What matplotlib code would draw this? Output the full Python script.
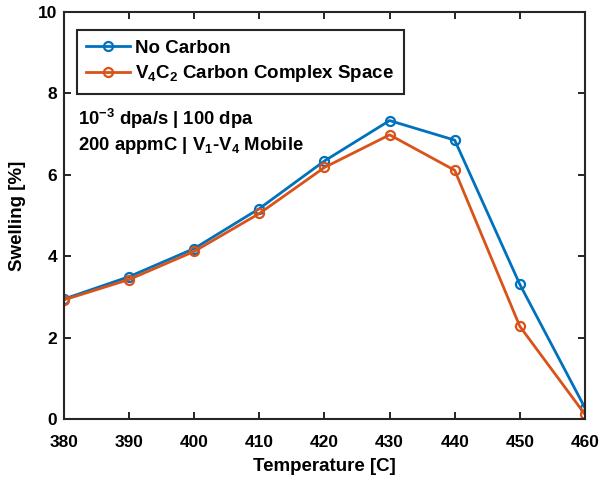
import matplotlib
matplotlib.use('Agg')
import matplotlib.pyplot as plt

plt.rcParams['font.family'] = ['Liberation Sans', 'DejaVu Sans']
plt.rcParams['font.weight'] = 'bold'
plt.rcParams['mathtext.fontset'] = 'custom'
plt.rcParams['mathtext.bf'] = 'Liberation Sans:bold'
plt.rcParams['mathtext.rm'] = 'Liberation Sans:bold'
plt.rcParams['mathtext.default'] = 'bf'

temperature = [380, 390, 400, 410, 420, 430, 440, 450, 460]
swell_no_carbon = [2.95, 3.50, 4.19, 5.17, 6.34, 7.33, 6.85, 3.31, 0.28]
swell_v4c2 = [2.93, 3.43, 4.12, 5.05, 6.18, 6.98, 6.11, 2.28, 0.12]

blue = '#0072BD'
orange = '#D95319'

fig = plt.figure(figsize=(6.02, 4.8), dpi=100)
ax = fig.add_axes([0.1063, 0.1265, 0.8654, 0.849])

ax.plot(temperature, swell_no_carbon, '-o', color=blue, lw=2, ms=6.5,
        mfc='none', mew=1.6, label='No Carbon')
ax.plot(temperature, swell_v4c2, '-o', color=orange, lw=2, ms=6.5,
        mfc='none', mew=1.6, label=r'V$_4$C$_2$ Carbon Complex Space')

ax.set_xlim(380, 460)
ax.set_ylim(0, 10)
ax.set_xticks(range(380, 461, 10))
ax.set_yticks(range(0, 11, 2))
ax.tick_params(direction='in', top=True, right=True, labelsize=12.5,
               width=1.2, length=5)
ax.tick_params(axis='x', pad=11)
ax.tick_params(axis='y', pad=5)
for lab in ax.get_xticklabels() + ax.get_yticklabels():
    lab.set_fontweight('bold')
for s in ax.spines.values():
    s.set_linewidth(1.5)
    s.set_color('#262626')

ax.set_xlabel('Temperature [C]', fontsize=13.5, fontweight='bold', va='center')
ax.set_ylabel('Swelling [%]', fontsize=13.5, fontweight='bold', va='center')
ax.xaxis.set_label_coords(0.5, -0.117)
ax.yaxis.set_label_coords(-0.09, 0.5)

leg = ax.legend(loc='upper left', bbox_to_anchor=(0.025, 0.955), fontsize=13.5,
                handlelength=2.3, handletextpad=0.3, borderpad=0.5,
                fancybox=False, framealpha=1, labelspacing=0.35, borderaxespad=0)
leg.get_frame().set_edgecolor('#262626')
leg.get_frame().set_linewidth(1.5)
for t in leg.get_texts():
    t.set_fontweight('bold')

ax.text(0.027, 0.737, r'10$^{-3}$ dpa/s | 100 dpa', transform=ax.transAxes,
        fontsize=13.3, fontweight='bold', va='center')
ax.text(0.027, 0.672, r'200 appmC | V$_1$-V$_4$ Mobile', transform=ax.transAxes,
        fontsize=13.3, fontweight='bold', va='center')

fig.savefig('out.png', dpi=100)
